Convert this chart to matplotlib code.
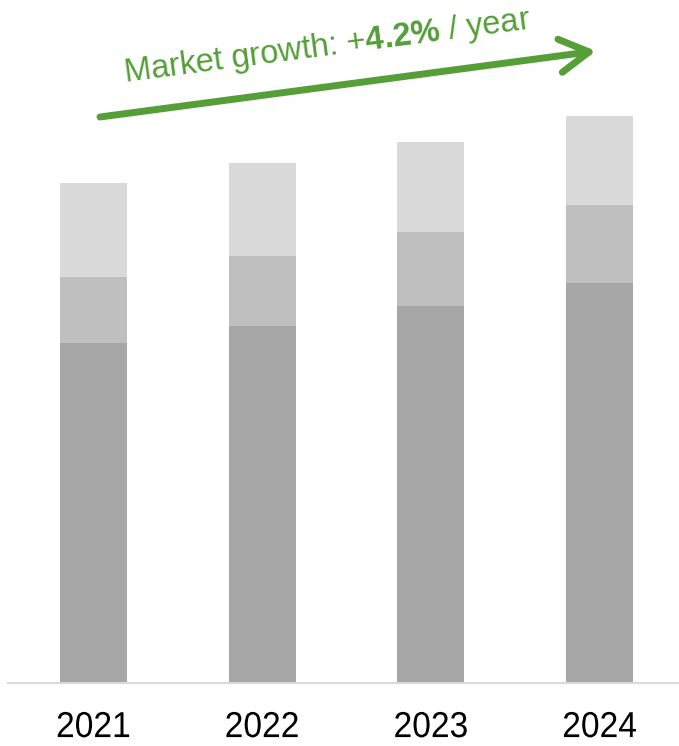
import numpy as np
import matplotlib.pyplot as plt
from matplotlib.patheffects import AbstractPathEffect
from matplotlib.transforms import Affine2D

years = ['2021', '2022', '2023', '2024']
base = [68.0, 71.4, 75.4, 80.0]
middle = [13.2, 14.0, 14.8, 15.6]
upper = [18.8, 18.6, 18.0, 17.8]
growth_label = '4.2%'

colors = ['#A6A6A6', '#BFBFBF', '#D9D9D9']
green = '#559E38'


class Condense(AbstractPathEffect):
    # squeeze text horizontally around its own centre (narrow year labels)
    def __init__(self, sx=0.9):
        super().__init__()
        self.sx = sx

    def draw_path(self, renderer, gc, tpath, affine, rgbFace=None):
        bb = tpath.get_extents(affine)
        cx = (bb.x0 + bb.x1) / 2
        t = affine + Affine2D().translate(-cx, 0).scale(self.sx, 1).translate(cx, 0)
        renderer.draw_path(gc, tpath, t, rgbFace)


plt.rcParams['font.family'] = ['Liberation Sans', 'DejaVu Sans']
plt.rcParams['mathtext.fontset'] = 'custom'
plt.rcParams['mathtext.rm'] = 'Liberation Sans'
plt.rcParams['mathtext.bf'] = 'Liberation Sans:bold'

fig = plt.figure(figsize=(6.79, 7.46), dpi=100)
ax = fig.add_axes([8 / 679, 63 / 746, 671 / 679, 683 / 746])

x = np.arange(len(years))
w = 0.397
ax.bar(x, base, w, color=colors[0])
ax.bar(x, middle, w, bottom=base, color=colors[1])
ax.bar(x, upper, w, bottom=np.array(base) + np.array(middle), color=colors[2])

ax.set_xlim(-0.507, 3.47)
ax.set_ylim(0, 136.6)
for s in ['top', 'right', 'left']:
    ax.spines[s].set_visible(False)
ax.spines['bottom'].set_color('#D9D9D9')
ax.spines['bottom'].set_linewidth(1.5)
ax.set_yticks([])
ax.set_xticks(x)
ax.set_xticklabels(years, fontsize=26)
for lab in ax.get_xticklabels():
    lab.set_path_effects([Condense(0.93)])
ax.tick_params(axis='x', length=0, pad=19.5)

# growth arrow
ax.annotate('', xy=(596, 695), xytext=(100, 629),
            xycoords='figure pixels', textcoords='figure pixels',
            arrowprops=dict(arrowstyle='->,head_length=1.05,head_width=0.6',
                            mutation_scale=20, color=green, lw=5,
                            capstyle='round', joinstyle='round',
                            shrinkA=0, shrinkB=0))
fig.text(328, 690.5, 'Market growth: +$\\mathbf{' + growth_label.replace('%', '\\%') + '}$ / year',
         transform=None, rotation=7.5, rotation_mode='anchor',
         ha='center', va='baseline', fontsize=23.5, color=green)

plt.savefig('out.png', dpi=100)
